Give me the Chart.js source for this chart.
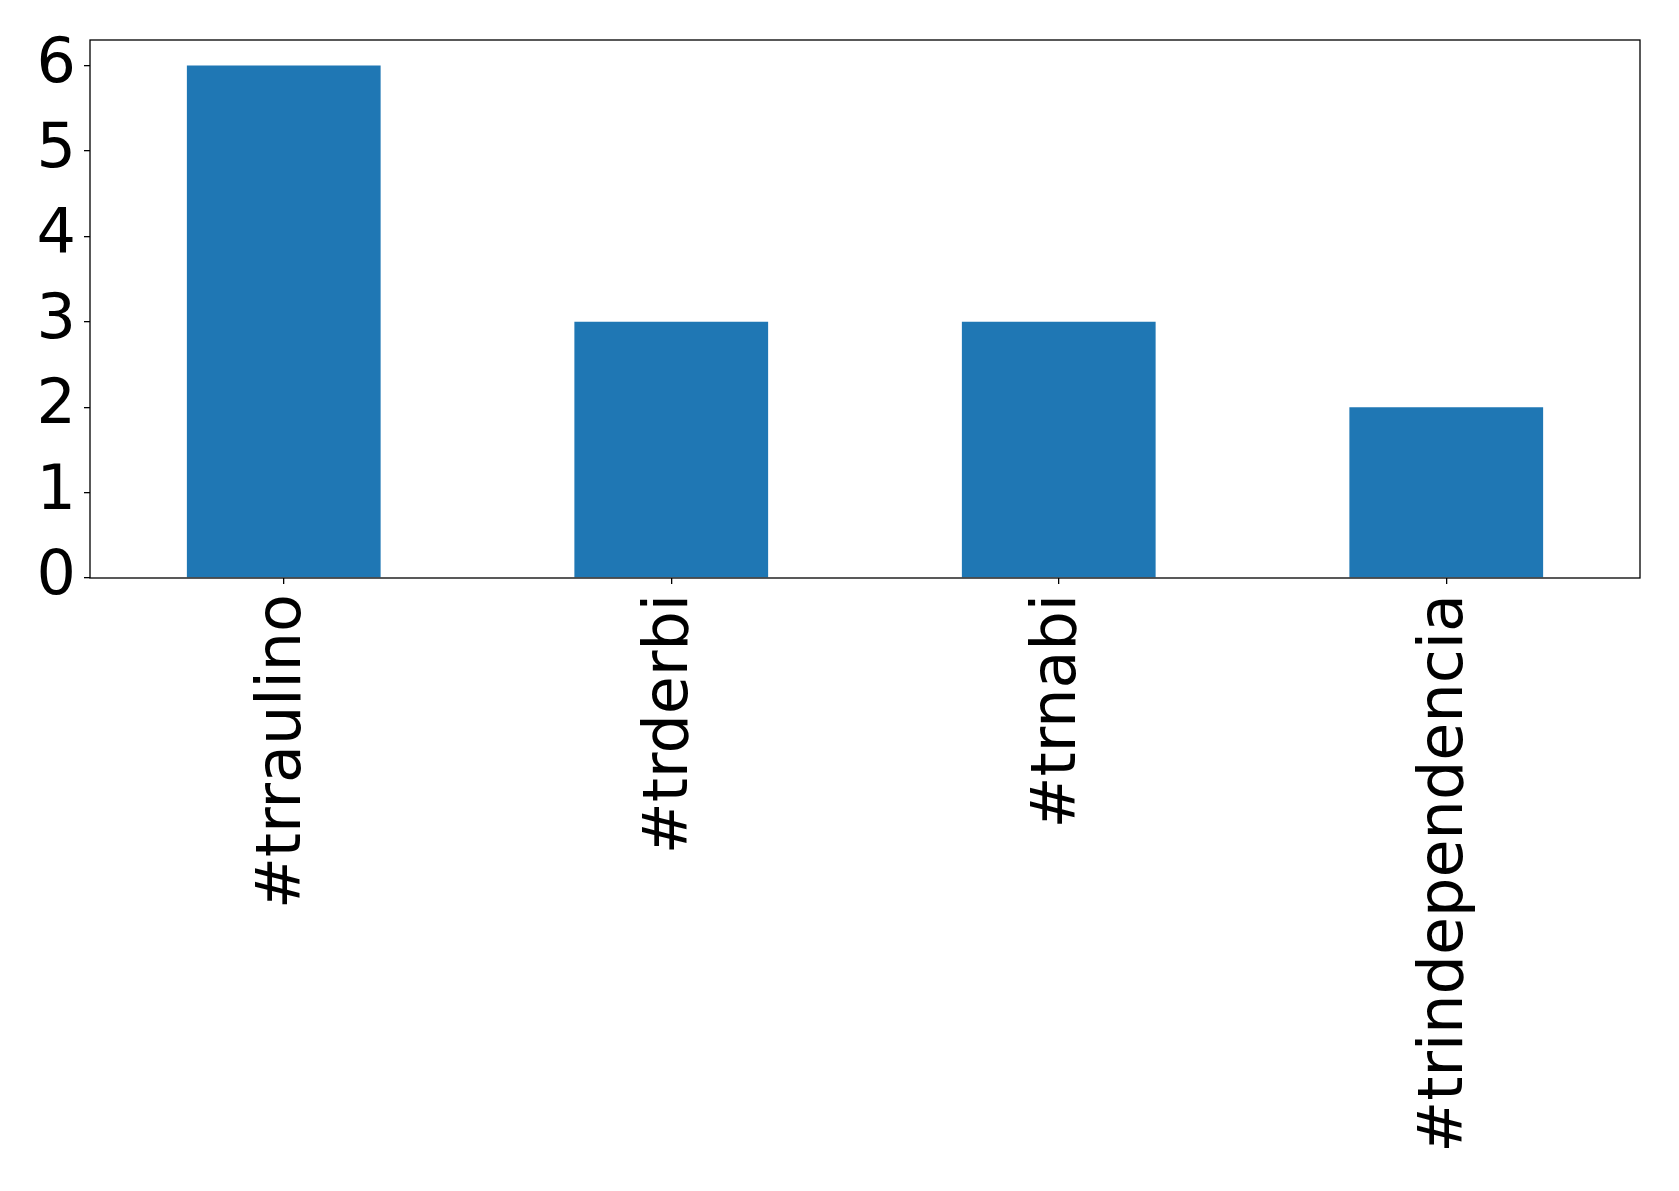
<!DOCTYPE html>
<html>
<head>
<meta charset="utf-8">
<script src="https://cdn.jsdelivr.net/npm/chart.js@4/dist/chart.umd.min.js"></script>
<style>
  html, body { margin: 0; padding: 0; background: #fff; }
  canvas { display: block; }
</style>
</head>
<body>
<canvas id="bar" width="1679" height="1191"></canvas>
<script>
// hashtag counts
const labels = ['#trraulino', '#trderbi', '#trnabi', '#trindependencia'];
const counts = [6, 3, 3, 2];
const yTicks = [0, 1, 2, 3, 4, 5, 6];

// box around the plot area, like matplotlib's spines
const frame = {
  id: 'frame',
  afterDatasetsDraw(chart) {
    const { ctx, chartArea: a } = chart;
    ctx.save();
    ctx.strokeStyle = '#000';
    ctx.lineWidth = 1.3;
    ctx.strokeRect(a.left, a.top, a.right - a.left, a.bottom - a.top);
    ctx.restore();
  }
};

Chart.defaults.font.family = 'DejaVu Sans';
Chart.defaults.color = '#000';

new Chart(document.getElementById('bar'), {
  type: 'bar',
  data: {
    labels,
    datasets: [{
      data: counts,
      backgroundColor: '#1f77b4',
      barPercentage: 0.5,
      categoryPercentage: 1.0,
      borderWidth: 0
    }]
  },
  options: {
    responsive: false,
    animation: false,
    layout: { padding: { top: 40, right: 39, left: 0, bottom: 0 } },
    plugins: { legend: { display: false }, tooltip: { enabled: false } },
    scales: {
      x: {
        grid: { display: true, offset: false, drawOnChartArea: false, drawTicks: true, tickLength: 6, color: '#000', lineWidth: 1.3 },
        border: { display: false },
        ticks: { font: { size: 62 }, maxRotation: 90, minRotation: 90, padding: 10, autoSkip: false },
        afterFit(s) {
          s.height = 613;
          s.paddingLeft = s.paddingRight = 0;
        }
      },
      y: {
        min: 0,
        max: 6.3,
        afterBuildTicks(s) { s.ticks = yTicks.map(v => ({ value: v })); },
        grid: { display: true, drawOnChartArea: false, drawTicks: true, tickLength: 6, color: '#000', lineWidth: 1.3 },
        border: { display: false },
        ticks: { font: { size: 62 }, padding: 8 },
        afterFit(s) {
          s.width = 90;
          s.paddingTop = s.paddingBottom = 0;
        }
      }
    }
  },
  plugins: [frame]
});
</script>
</body>
</html>
